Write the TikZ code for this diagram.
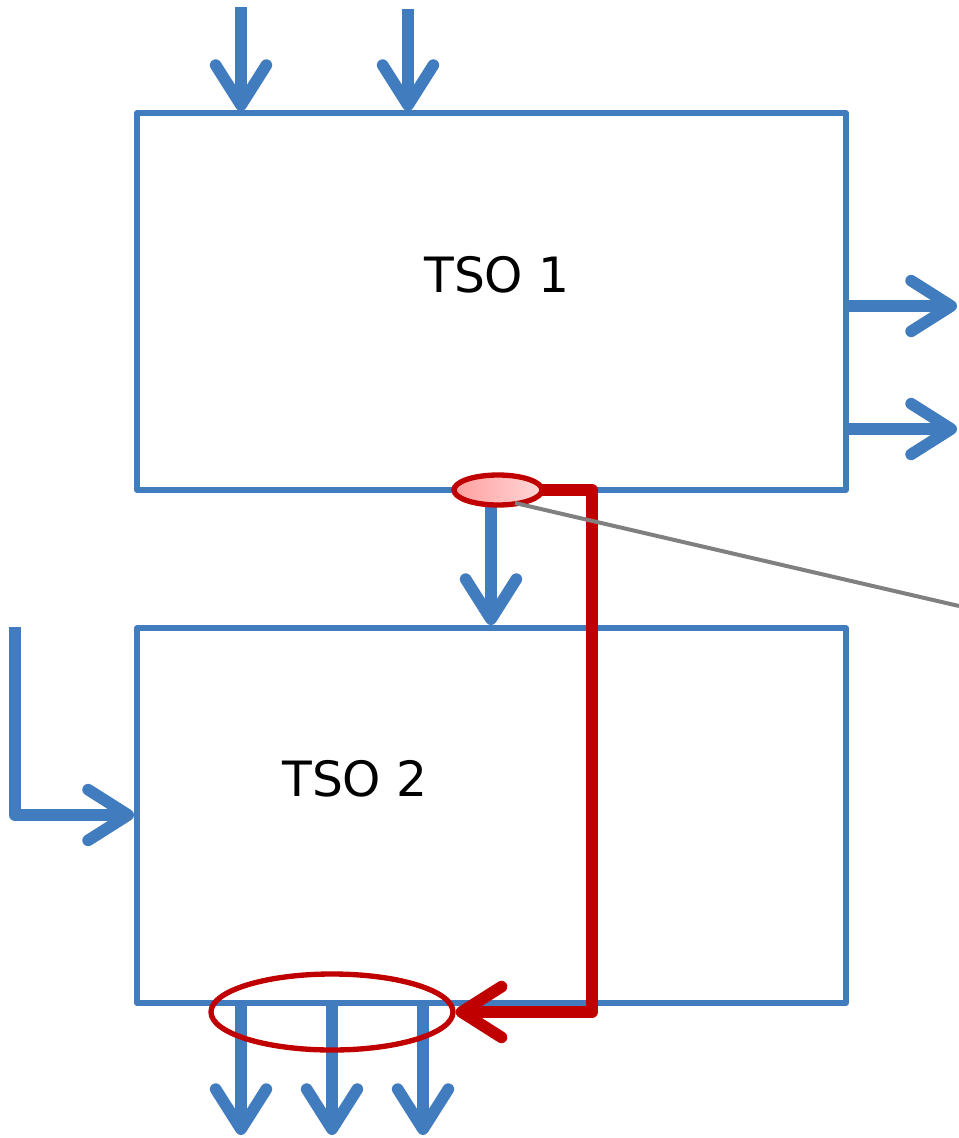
\documentclass[tikz,border=0pt]{standalone}
\usepackage{fontspec}
\setmainfont{DejaVu Sans}
\usetikzlibrary{arrows.meta,shapes.geometric}
\definecolor{tsoblue}{RGB}{65,124,191}
\definecolor{tsored}{RGB}{192,0,0}
\definecolor{tsogray}{RGB}{128,128,128}
\definecolor{pinkA}{RGB}{255,160,160}
\definecolor{pinkB}{RGB}{255,215,215}
\begin{document}
\begin{tikzpicture}[x=0.75pt,y=-0.75pt,
  tsobox/.style={draw=tsoblue,line width=4pt,minimum width=531.75pt,minimum height=282.75pt,inner sep=0pt,line join=round},
  flow/.style={draw=tsoblue,line width=8.75pt,line join=round,-{Straight Barb[length=30pt,width=38pt,round]}},
  redflow/.style={draw=tsored,line width=8.75pt,line join=round,-{Straight Barb[length=30pt,width=38pt,round]}},
  label/.style={font=\fontsize{36.5}{42}\selectfont,inner sep=0pt},
  ring/.style={draw=tsored,line width=4pt,ellipse,inner sep=0pt}]
\useasboundingbox (0,0) rectangle (959,1138);
% boxes
\node[tsobox] (tso1) at (491.5,301.5) {};
\node[tsobox,minimum height=281.25pt] (tso2) at (491.5,815.5) {};
\node[label] (t1) at (497,275) {TSO 1};
\node[label] (t2) at (355,779) {TSO 2};
% coordinates
\coordinate (in1) at (241,7);
\coordinate (in1e) at (241,111);
\coordinate (in2) at (408,9);
\coordinate (in2e) at (408,111);
\coordinate (o1s) at (846,306);
\coordinate (o1e) at (957,306);
\coordinate (o2s) at (846,429);
\coordinate (o2e) at (957,429);
\coordinate (ms) at (491,490);
\coordinate (me) at (491,625);
\coordinate (ls) at (15,627);
\coordinate (lc) at (15,815);
\coordinate (le) at (134,815);
\coordinate (b1s) at (241,1003);
\coordinate (b1e) at (241,1135);
\coordinate (b2s) at (332,1003);
\coordinate (b2e) at (332,1135);
\coordinate (b3s) at (423,1003);
\coordinate (b3e) at (423,1135);
\coordinate (rc1) at (592,490);
\coordinate (rc2) at (592,1012);
\coordinate (gs) at (515,503);
\coordinate (gend) at (959,606);
% blue flows
\draw[flow] (in1) -- (in1e);
\draw[flow] (in2) -- (in2e);
\draw[flow] (o1s) -- (o1e);
\draw[flow] (o2s) -- (o2e);
\draw[flow] (ms) -- (me);
\draw[flow] (ls) -- (lc) -- (le);
\draw[flow] (b1s) -- (b1e);
\draw[flow] (b2s) -- (b2e);
\draw[flow] (b3s) -- (b3e);
% red ellipse around the outflows
\node[ring,minimum width=181.5pt,minimum height=57pt] (grp) at (332,1012) {};
% red path from the small ellipse
\draw[redflow] (498,490) -- (rc1) -- (rc2) -- (grp.east);
% small ellipse on top of the red path
\node[ring,minimum width=66pt,minimum height=22.5pt,left color=pinkA,right color=pinkB] (pt) at (498,490) {};
% gray line
\draw[tsogray,line width=3pt] (gs) -- (gend);
\end{tikzpicture}
\end{document}
